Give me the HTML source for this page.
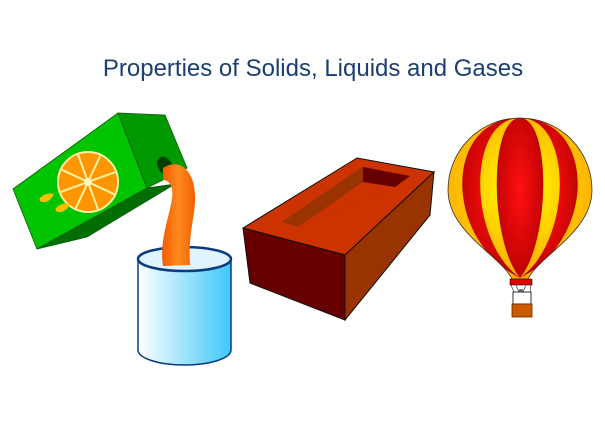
<!DOCTYPE html>
<html><head><meta charset="utf-8"><style>
html,body{margin:0;padding:0;background:#fff;}
svg{display:block;}
</style></head><body>
<svg width="605" height="423" viewBox="0 0 605 423">
<defs>
<linearGradient id="glassG" x1="0" x2="1" y1="0" y2="0"><stop offset="0" stop-color="#ffffff"/><stop offset="1" stop-color="#3ec8f8"/></linearGradient>
<radialGradient id="balY" cx="0.5" cy="0.45" r="0.6"><stop offset="0" stop-color="#ffff00"/><stop offset="1" stop-color="#ff9a00"/></radialGradient>
<radialGradient id="balR" cx="0.5" cy="0.45" r="0.6"><stop offset="0" stop-color="#ff1010"/><stop offset="1" stop-color="#b80000"/></radialGradient>
<linearGradient id="juice" x1="0" x2="1"><stop offset="0" stop-color="#f25a00"/><stop offset="0.5" stop-color="#ff8a20"/><stop offset="1" stop-color="#f06000"/></linearGradient>
<clipPath id="balClip"><path d="M448,190 A72,72 0 0 1 592,190 C592,232 540,255 528,279 L512,279 C500,255 448,232 448,190Z"/></clipPath>
</defs>
<text x="313" y="76" text-anchor="middle" font-family="Liberation Sans, sans-serif" font-size="24" fill="#1a3f70">Properties of Solids, Liquids and Gases</text>

<g>
<polygon points="13,189 118,113 147,188 37,249" fill="#00c400" stroke="#0a5a0a" stroke-width="0.8"/>
<polygon points="118,113 165,115 187,168 147,188" fill="#009a00" stroke="#0a5a0a" stroke-width="0.8"/>
<polygon points="37,249 147,188 175,184 87,237" fill="#006e00" stroke="#0a5a0a" stroke-width="0.8"/>
<ellipse cx="165" cy="166" rx="7" ry="10" fill="#004000" transform="rotate(-30 165 166)"/>
<circle cx="88" cy="182" r="30" fill="#ff9500" stroke="#fff2a0" stroke-width="2"/>
<g stroke="#fff2a0" stroke-width="2">
<line x1="58" y1="182" x2="118" y2="182" transform="rotate(-20 88 182)"/>
<line x1="58" y1="182" x2="118" y2="182" transform="rotate(25 88 182)"/>
<line x1="58" y1="182" x2="118" y2="182" transform="rotate(70 88 182)"/>
<line x1="58" y1="182" x2="118" y2="182" transform="rotate(115 88 182)"/>
</g>
<circle cx="88" cy="182" r="4" fill="#fff8c0"/>
<path d="M40,198 q6,-6 14,-4 q-4,8 -10,8 q-6,0 -4,-4z" fill="#ffc000"/>
<path d="M56,208 q6,-6 14,-4 q-4,8 -10,8 q-6,0 -4,-4z" fill="#ffc000"/>
</g>

<g>
<path d="M138,260 L138,350 A46.5,15 0 0 0 231,350 L231,260Z" fill="url(#glassG)" stroke="#0a3a80" stroke-width="1.5"/>
<ellipse cx="184.5" cy="259" rx="46.5" ry="12" fill="#dff4ff" stroke="#0a3a80" stroke-width="2.5"/>
<path d="M163,168 C178,158 194,168 195,195 C196,215 188,232 190,265 L163,266 C159,240 170,215 172,198 C174,185 168,180 163,180Z" fill="url(#juice)"/>
</g>

<g>
<polygon points="243,228 357,158 434,172 345,255" fill="#cc3300" stroke="#111" stroke-width="1"/>
<polygon points="243,228 345,255 345,320 250,283" fill="#660000" stroke="#111" stroke-width="1"/>
<polygon points="345,255 434,172 430,215 345,320" fill="#993300" stroke="#111" stroke-width="1"/>
<polygon points="282,222 362,167 410,176 395,187 298,227" fill="#993300"/>
<polygon points="363,167 410,176 395,187 363,182" fill="#660000"/>
<polygon points="298,227 363,182 395,187" fill="#cc3300"/>
</g>

<g>
<g clip-path="url(#balClip)">
<rect x="440" y="110" width="160" height="175" fill="url(#balY)"/>
<path d="M520,118 C443,118 443,240 520,278 C467,240 467,118 520,118Z" fill="url(#balR)"/>
<path d="M520,118 C489,118 489,240 520,278 C551,240 551,118 520,118Z" fill="url(#balR)"/>
<path d="M520,118 C573,118 573,240 520,278 C597,240 597,118 520,118Z" fill="url(#balR)"/>
</g>
<path d="M448,190 A72,72 0 0 1 592,190 C592,232 540,255 528,279 L512,279 C500,255 448,232 448,190Z" fill="none" stroke="#333" stroke-width="0.8"/>
<rect x="510" y="279" width="22" height="6" fill="#d00" stroke="#000" stroke-width="0.5"/>
<g stroke="#222" stroke-width="0.6"><line x1="511" y1="285" x2="514" y2="292"/><line x1="531" y1="285" x2="530" y2="292"/><line x1="516" y1="285" x2="519" y2="292"/><line x1="526" y1="285" x2="523" y2="292"/></g>
<rect x="519" y="289" width="4" height="4" fill="#777"/>
<rect x="513" y="292" width="18" height="12" fill="#fff" stroke="#000" stroke-width="0.8"/>
<rect x="512" y="304" width="20" height="13" fill="#c85a00" stroke="#6a2a00" stroke-width="0.8"/>
</g>
</svg>
</body></html>
